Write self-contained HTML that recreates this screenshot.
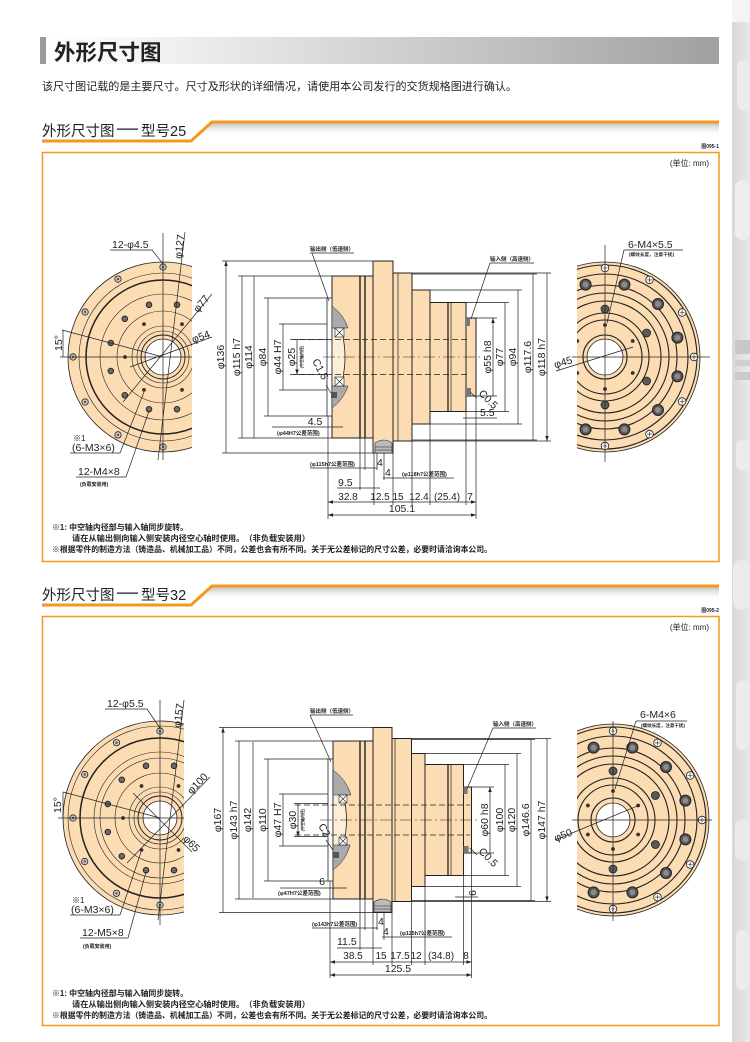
<!DOCTYPE html>
<html><head><meta charset="utf-8">
<style>
html,body{margin:0;padding:0;background:#fff;}
svg{display:block;}
text{font-family:"Liberation Sans","Noto Sans CJK SC",sans-serif;fill:#222;}
.d{font-size:10.5px;}
.s{font-size:5.5px;font-weight:bold;}
.n{font-size:8px;font-weight:bold;}
.ln{stroke:#222;stroke-width:0.7;fill:none;}
.dm{stroke:#222;stroke-width:0.7;fill:none;marker-start:url(#a);marker-end:url(#a);}
.bd{stroke:#222;stroke-width:1;fill:#fcdcb3;}
.rg{fill:none;stroke:#222;stroke-width:0.6;}
.rr{fill:none;stroke:#222;stroke-width:1.1;}
</style></head><body>
<svg width="750" height="1042" viewBox="0 0 750 1042" xmlns="http://www.w3.org/2000/svg">
<defs>
 <marker id="a" viewBox="0 0 10 10" refX="10" refY="5" markerWidth="5" markerHeight="5" orient="auto-start-reverse" markerUnits="userSpaceOnUse"><path d="M0,1.5L10,5L0,8.5z" fill="#222"/></marker>
 <linearGradient id="hg" x1="0" x2="1"><stop offset="0" stop-color="#fff"/><stop offset="0.12" stop-color="#f7f7f7"/><stop offset="0.55" stop-color="#cdcdcd"/><stop offset="1" stop-color="#a0a0a0"/></linearGradient>
 <linearGradient id="sh" x1="0" y1="0" x2="0" y2="1"><stop offset="0" stop-color="#c4c4c4"/><stop offset="1" stop-color="#fff" stop-opacity="0"/></linearGradient>
 <linearGradient id="st" x1="0" x2="1"><stop offset="0" stop-color="#d8d8d8"/><stop offset="1" stop-color="#e8e8e8"/></linearGradient>
 <clipPath id="c1"><rect x="0" y="0" width="192" height="1042"/></clipPath>
 <clipPath id="c2"><rect x="577" y="0" width="173" height="1042"/></clipPath>
 <clipPath id="c3"><rect x="0" y="0" width="184" height="1042"/></clipPath>
 <g id="h1"><circle r="3.2" fill="#c8c8c8" stroke="#222" stroke-width="0.8"/><circle r="1.2" fill="#555"/></g>
 <g id="h2"><circle r="2.8" fill="#6a6a6a" stroke="#222" stroke-width="0.9"/></g>
 <g id="h3"><circle r="1.9" fill="#333"/></g>
 <g id="hw"><circle r="3.8" fill="#fff" stroke="#222" stroke-width="0.8"/><path d="M-2.5,0H2.5M0,-2.5V2.5" stroke="#222" stroke-width="0.6"/></g>
 <g id="hb"><circle r="5.5" fill="#555" stroke="#222" stroke-width="1"/><circle r="3" fill="#8a8a8a"/></g>
 <g id="hm"><circle r="4" fill="#5a5a5a" stroke="#222" stroke-width="0.8"/></g>
</defs>

<!-- right background strip -->
<rect x="732" y="0" width="18" height="1042" fill="url(#st)"/>
<rect x="732" y="0" width="18" height="22" fill="#f4f4f4"/>
<rect x="737" y="60" width="13" height="50" fill="#ececec" rx="6"/>
<rect x="735" y="180" width="15" height="60" fill="#eeeeee" rx="8"/>
<rect x="735" y="340" width="15" height="14" fill="#c8c8c8"/>
<rect x="735" y="360" width="15" height="6" fill="#cfcfcf"/>
<rect x="735" y="372" width="15" height="8" fill="#cbcbcb"/>
<rect x="736" y="440" width="14" height="30" fill="#ececec" rx="6"/>
<rect x="733" y="560" width="17" height="50" fill="#ebebeb" rx="8"/>
<rect x="736" y="680" width="14" height="70" fill="#ececec" rx="7"/>
<rect x="735" y="820" width="15" height="40" fill="#eaeaea" rx="6"/>
<rect x="736" y="930" width="14" height="60" fill="#ececec" rx="7"/>

<!-- header -->
<rect x="40" y="37" width="679" height="27" fill="url(#hg)"/>
<rect x="40" y="37" width="6" height="27" fill="#9a9a9a"/>
<text x="54" y="60" style="font-size:21.5px;font-weight:bold;">外形尺寸图</text>
<text x="42" y="90" style="font-size:11px;" textLength="475" lengthAdjust="spacingAndGlyphs">该尺寸图记载的是主要尺寸。尺寸及形状的详细情况，请使用本公司发行的交货规格图进行确认。</text>

<!-- ============ SECTION 1 ============ -->
<polygon points="212,123.5 719,123.5 719,136 200,136" fill="url(#sh)"/>
<polyline points="42,141 191,141 212,122 719,122" fill="none" stroke="#f39a1e" stroke-width="3"/>
<text x="42" y="136" style="font-size:14.5px;">外形尺寸图</text>
<rect x="117" y="128.5" width="21" height="1.3" fill="#222"/>
<text x="141" y="136" style="font-size:14.5px;">型号25</text>
<text x="719" y="148" text-anchor="end" style="font-size:5px;font-weight:bold;">图095-1</text>
<rect x="42.5" y="152.5" width="676.5" height="409" fill="none" stroke="#f39a1e" stroke-width="1.5"/>
<text x="709" y="166" text-anchor="end" style="font-size:8px;">(单位: mm)</text>

<!-- left disc 1 -->
<g clip-path="url(#c1)">
<circle cx="163" cy="357" r="95" fill="#fcdcb3" stroke="#222" stroke-width="0.8"/>
<circle class="rg" cx="163" cy="357" r="84"/>
<circle cx="163" cy="357" r="77" fill="none" stroke="#222" stroke-width="1.5"/>
<circle class="rg" cx="163" cy="357" r="63"/>
<circle class="rg" cx="163" cy="357" r="46"/>
<circle class="rg" cx="163" cy="357" r="31"/>
<circle class="rg" cx="163" cy="357" r="26"/>
<circle cx="163" cy="357" r="22" fill="none" stroke="#222" stroke-width="0.9"/>
<circle cx="163" cy="357" r="18" fill="#fff" stroke="#222" stroke-width="0.8"/>
<use href="#h1" x="163" y="267"/><use href="#h1" x="118" y="279.1"/><use href="#h1" x="85.1" y="312"/><use href="#h1" x="73" y="357"/><use href="#h1" x="85.1" y="402"/><use href="#h1" x="118" y="434.9"/><use href="#h1" x="163" y="447"/>
<use href="#h2" x="177" y="304.8"/><use href="#h2" x="149" y="304.8"/><use href="#h2" x="124.8" y="318.8"/><use href="#h2" x="110.8" y="343"/><use href="#h2" x="110.8" y="371"/><use href="#h2" x="124.8" y="395.2"/><use href="#h2" x="149" y="409.2"/><use href="#h2" x="177" y="409.2"/>
<use href="#h3" x="182" y="324.1"/><use href="#h3" x="144" y="324.1"/><use href="#h3" x="125" y="357"/><use href="#h3" x="144" y="389.9"/><use href="#h3" x="182" y="389.9"/>
</g>
<path class="ln" d="M60,357H192M163,233V460M158,460L185,232M123,402L212,294M130,367L212,337M163,357L62,330M63,330V357"/>
<text class="d" transform="translate(183,247) rotate(-83)" text-anchor="middle">φ127</text>
<text class="d" transform="translate(204,306) rotate(-50)" text-anchor="middle">φ77</text>
<text class="d" transform="translate(202,340) rotate(-20)" text-anchor="middle">φ54</text>
<text class="d" transform="translate(62,343) rotate(-90)" text-anchor="middle">15°</text>
<text class="d" x="112" y="248">12-φ4.5</text>
<path class="ln" d="M110,250H152L163,264"/>
<text x="73" y="441" style="font-size:8px;">※1</text>
<text class="d" x="72" y="451">(6-M3×6)</text>
<path class="ln" d="M70,453H120L144,392"/>
<text class="d" x="78" y="475">12-M4×8</text>
<path class="ln" d="M76,477H126L149,411"/>
<text x="80" y="486" style="font-size:5px;font-weight:bold;">(负载安装用)</text>

<!-- middle view 1 -->
<path class="ln" d="M222,261H373M222,453H373M238,276H332M238,438H332M264,298H327M264,416H327M279,324H332M279,390H332M293,339.5H332M293,374.5H332"/>
<path class="ln" d="M476,318H497M476,396H497M466,302.5H509M466,411.5H509M430,290H522M430,424H522M412,274H537M412,440H537M412,273H551M412,441H551"/>
<rect class="bd" x="332" y="276" width="41" height="162"/>
<rect class="bd" x="373" y="261" width="20" height="192"/>
<rect class="bd" x="393" y="273" width="19" height="168"/>
<rect class="bd" x="412" y="290" width="18" height="134"/>
<rect class="bd" x="430" y="302.5" width="36" height="109"/>
<rect class="bd" x="466" y="318" width="10" height="78"/>
<path d="M360,276V438M365,276V438" stroke="#222" stroke-width="1.4"/>
<path d="M398,273V441" stroke="#222" stroke-width="0.7"/>
<path d="M448,302.5V411.5" stroke="#222" stroke-width="1.3"/>
<path d="M451,302.5V411.5" stroke="#222" stroke-width="0.7"/>
<rect x="466" y="318" width="4" height="8" fill="#777"/>
<rect x="466" y="388" width="5" height="8" fill="#777"/>
<path d="M375,443Q384,437 392,443L392,453L375,453Z" fill="#bbb" stroke="#222" stroke-width="0.6"/>
<path d="M375,447H392M375,450H392" stroke="#222" stroke-width="0.5"/>
<rect x="327" y="298" width="5" height="118" fill="#fff" stroke="#222" stroke-width="0.8"/>
<path d="M332,306Q358,357 332,408Z" fill="#fdeed8" stroke="#222" stroke-width="0.8"/>
<path d="M332,306Q344,315 348,328L332,328Z" fill="#aaa" stroke="#222" stroke-width="0.5"/>
<path d="M332,408Q344,399 348,386L332,386Z" fill="#aaa" stroke="#222" stroke-width="0.5"/>
<g stroke="#222" stroke-width="0.6" fill="#fff"><rect x="335" y="328" width="9" height="9"/><path d="M335,328L344,337M344,328L335,337"/><rect x="335" y="377" width="9" height="9"/><path d="M335,377L344,386M344,377L335,386"/></g>
<rect x="331" y="392" width="6" height="6" fill="#555"/>
<path d="M290,339.5H470M290,374.5H470" stroke="#222" stroke-width="0.8" stroke-dasharray="6 3"/>
<path d="M323,357H480" stroke="#222" stroke-width="0.6" stroke-dasharray="12 3 2 3"/>
<path class="dm" d="M226,261V453M242,276V438M254,276.5V437.5M268,298V416M283,324V390M297,339.5V374.5"/>
<path class="dm" d="M493,318V396M505,302.5V411.5M518,290V424M533,274V440M547,273V441"/>
<text class="d" transform="translate(224,357) rotate(-90)" text-anchor="middle">φ136</text>
<text class="d" transform="translate(240,357) rotate(-90)" text-anchor="middle">φ115 h7</text>
<text class="d" transform="translate(252,357) rotate(-90)" text-anchor="middle">φ114</text>
<text class="d" transform="translate(266,357) rotate(-90)" text-anchor="middle">φ84</text>
<text class="d" transform="translate(281,357) rotate(-90)" text-anchor="middle">φ44 H7</text>
<text class="d" transform="translate(295,357) rotate(-90)" text-anchor="middle">φ25</text>
<text transform="translate(303,357) rotate(-90)" text-anchor="middle" style="font-size:4px;font-weight:bold;">(中空轴内径)</text>
<text class="d" transform="translate(491,357) rotate(-90)" text-anchor="middle">φ55 h8</text>
<text class="d" transform="translate(503,357) rotate(-90)" text-anchor="middle">φ77</text>
<text class="d" transform="translate(516,357) rotate(-90)" text-anchor="middle">φ94</text>
<text class="d" transform="translate(531,357) rotate(-90)" text-anchor="middle">φ117.6</text>
<text class="d" transform="translate(545,357) rotate(-90)" text-anchor="middle">φ118 h7</text>
<text class="s" x="310" y="251">输出侧（低速侧）</text>
<path class="ln" d="M310,253H354M312,253L329,301"/>
<text class="s" x="490" y="261">输入侧（高速侧）</text>
<path class="ln" d="M490,263H534M490,263L471,319"/>
<text class="d" transform="translate(312,361) rotate(62)">C1.5</text>
<path class="ln" d="M326,385L331,393"/>
<text class="d" transform="translate(478,394) rotate(45)">C0.5</text>
<path class="ln" d="M470,392L477,398"/>
<text class="d" x="480" y="416">5.5</text>
<path class="ln" d="M463,418H497"/>
<!-- bottom dims 1 -->
<path class="ln" d="M328,416V519M360,438V490M365,438V470M374,453V505M377,453V470M384,453V480M393,441V505M412,441V505M430,424V505M466,411.5V505M476,396V519"/>
<text class="d" x="315" y="425" text-anchor="middle">4.5</text>
<path class="ln" d="M272,427H343"/>
<text class="s" x="277" y="435">(φ44H7公差范围)</text>
<text class="s" x="310" y="466">(φ115h7公差范围)</text>
<path class="ln" d="M310,468H377"/>
<text class="d" x="377" y="466">4</text>
<text class="d" x="385" y="476">4</text>
<path class="ln" d="M383,478H454"/>
<text class="s" x="402" y="476">(φ118h7公差范围)</text>
<text class="d" x="338" y="486">9.5</text>
<path class="ln" d="M337,488H380"/>
<path class="dm" d="M328,502H374M374,502H393M393,502H412M412,502H430M430,502H466M466,502H476"/>
<g class="d" text-anchor="middle" style="font-size:10px;">
<text x="348" y="500">32.8</text><text x="380" y="500">12.5</text><text x="398" y="500">15</text><text x="419" y="500">12.4</text><text x="447" y="500">(25.4)</text><text x="470" y="500">7</text>
</g>
<path class="dm" d="M328,515H476"/>
<text class="d" x="402" y="512" text-anchor="middle">105.1</text>

<!-- right disc 1 -->
<g clip-path="url(#c2)">
<circle cx="605" cy="357" r="95" fill="#fcdcb3" stroke="#222" stroke-width="0.8"/>
<circle class="rr" cx="605" cy="357" r="92"/>
<circle class="rr" cx="605" cy="357" r="83"/>
<circle class="rr" cx="605" cy="357" r="72"/>
<circle class="rr" cx="605" cy="357" r="64"/>
<circle class="rr" cx="605" cy="357" r="56"/>
<circle class="rr" cx="605" cy="357" r="44"/>
<circle class="rr" cx="605" cy="357" r="37"/>
<circle class="rr" cx="605" cy="357" r="22"/>
<circle cx="605" cy="357" r="18" fill="#fff" stroke="#222" stroke-width="0.8"/>
<use href="#hw" x="605" y="268"/><use href="#hw" x="649.5" y="279.9"/><use href="#hw" x="682.1" y="312.5"/><use href="#hw" x="694" y="357"/><use href="#hw" x="682.1" y="401.5"/><use href="#hw" x="649.5" y="434.1"/><use href="#hw" x="605" y="446"/>
<use href="#hb" x="585.6" y="284.6"/><use href="#hb" x="624.4" y="284.6"/><use href="#hb" x="658" y="304"/><use href="#hb" x="677.4" y="337.6"/><use href="#hb" x="677.4" y="376.4"/><use href="#hb" x="658" y="410"/><use href="#hb" x="624.4" y="429.4"/><use href="#hb" x="585.6" y="429.4"/>
<use href="#hm" x="605" y="309"/><use href="#hm" x="646.6" y="333"/><use href="#hm" x="646.6" y="381"/><use href="#hm" x="605" y="405"/>
<use href="#h3" x="605" y="325"/><use href="#h3" x="632.7" y="341"/><use href="#h3" x="632.7" y="373"/><use href="#h3" x="605" y="389"/><use href="#h3" x="577.3" y="341"/><use href="#h3" x="577.3" y="373"/>
</g>
<path class="ln" d="M572,357H710M605,245V462M556,371L633,347"/>
<text class="d" transform="translate(573,363) rotate(-17)" text-anchor="end">φ45</text>
<text class="d" x="628" y="248">6-M4×5.5</text>
<path class="ln" d="M624,250H683M624,250L607,323"/>
<text x="629" y="256" style="font-size:4.5px;font-weight:bold;" textLength="45" lengthAdjust="spacingAndGlyphs">(螺纹长度，注意干扰)</text>

<!-- notes 1 -->
<text class="n" x="52" y="530" textLength="136" lengthAdjust="spacingAndGlyphs">※1: 中空轴内径部与输入轴同步旋转。</text>
<text class="n" x="72" y="541" textLength="238" lengthAdjust="spacingAndGlyphs">请在从输出侧向输入侧安装内径空心轴时使用。（非负载安装用）</text>
<text class="n" x="52" y="552" textLength="440" lengthAdjust="spacingAndGlyphs">※根据零件的制造方法（铸造品、机械加工品）不同，公差也会有所不同。关于无公差标记的尺寸公差，必要时请洽询本公司。</text>

<!-- ============ SECTION 2 ============ -->
<polygon points="212,587.5 719,587.5 719,600 200,600" fill="url(#sh)"/>
<polyline points="42,605 191,605 212,586 719,586" fill="none" stroke="#f39a1e" stroke-width="3"/>
<text x="42" y="600" style="font-size:14.5px;">外形尺寸图</text>
<rect x="117" y="592.5" width="21" height="1.3" fill="#222"/>
<text x="141" y="600" style="font-size:14.5px;">型号32</text>
<text x="719" y="612" text-anchor="end" style="font-size:5px;font-weight:bold;">图095-2</text>
<rect x="42.5" y="616.5" width="676.5" height="409" fill="none" stroke="#f39a1e" stroke-width="1.5"/>
<text x="709" y="630" text-anchor="end" style="font-size:8px;">(单位: mm)</text>

<!-- left disc 2 -->
<g clip-path="url(#c3)">
<circle cx="160" cy="818" r="97" fill="#fcdcb3" stroke="#222" stroke-width="0.8"/>
<circle class="rg" cx="160" cy="818" r="92"/>
<circle cx="160" cy="818" r="80" fill="none" stroke="#222" stroke-width="1.5"/>
<circle class="rg" cx="160" cy="818" r="66"/>
<circle class="rg" cx="160" cy="818" r="60"/>
<circle class="rg" cx="160" cy="818" r="45"/>
<circle class="rg" cx="160" cy="818" r="31"/>
<circle class="rg" cx="160" cy="818" r="26"/>
<circle cx="160" cy="818" r="22" fill="none" stroke="#222" stroke-width="0.9"/>
<circle cx="160" cy="818" r="17" fill="#fff" stroke="#222" stroke-width="0.8"/>
<use href="#h1" x="160" y="731"/><use href="#h1" x="116.5" y="742.7"/><use href="#h1" x="84.7" y="774.5"/><use href="#h1" x="73" y="818"/><use href="#h1" x="84.7" y="861.5"/><use href="#h1" x="116.5" y="893.3"/><use href="#h1" x="160" y="905"/>
<use href="#h2" x="174" y="765.8"/><use href="#h2" x="146" y="765.8"/><use href="#h2" x="121.8" y="779.8"/><use href="#h2" x="107.8" y="804"/><use href="#h2" x="107.8" y="832"/><use href="#h2" x="121.8" y="856.2"/><use href="#h2" x="146" y="870.2"/><use href="#h2" x="174" y="870.2"/>
<use href="#h3" x="178.5" y="786"/><use href="#h3" x="141.5" y="786"/><use href="#h3" x="123" y="818"/><use href="#h3" x="141.5" y="850"/><use href="#h3" x="178.5" y="850"/>
</g>
<path class="ln" d="M58,818H184M160,700V925M158,920L184,700M127,863L210,777M133,793L192,852M160,818L63,792M63,792V818"/>
<text class="d" transform="translate(182,716) rotate(-83)" text-anchor="middle">φ157</text>
<text class="d" transform="translate(200,786) rotate(-46)" text-anchor="middle">φ100</text>
<text class="d" transform="translate(189,846) rotate(45)" text-anchor="middle">φ65</text>
<text class="d" transform="translate(61,805) rotate(-90)" text-anchor="middle">15°</text>
<text class="d" x="107" y="707">12-φ5.5</text>
<path class="ln" d="M105,709H147L160,728"/>
<text x="72" y="903" style="font-size:8px;">※1</text>
<text class="d" x="71" y="913">(6-M3×6)</text>
<path class="ln" d="M70,915H120L141,852"/>
<text class="d" x="82" y="936">12-M5×8</text>
<path class="ln" d="M80,938H128L146,872"/>
<text x="83" y="948" style="font-size:5px;font-weight:bold;">(负载安装用)</text>

<!-- middle view 2 -->
<path class="ln" d="M219,727.5H373M219,912.5H373M235,741H333M235,899H333M264,759H328M264,881H328M279,794H333M279,846H333M294,803.5H333M294,836.5H333"/>
<path class="ln" d="M471.5,787H494M471.5,853H494M463.5,764.5H509M463.5,875.5H509M425,753.5H521M425,886.5H521M411.5,739.5H535M411.5,900.5H535M411.5,738.5H551M411.5,901.5H551"/>
<rect class="bd" x="333" y="741" width="40" height="158"/>
<rect class="bd" x="373" y="727.5" width="19" height="185"/>
<rect class="bd" x="392" y="738.5" width="19.5" height="163"/>
<rect class="bd" x="411.5" y="753.5" width="13.5" height="133"/>
<rect class="bd" x="425" y="764.5" width="38.5" height="111"/>
<rect class="bd" x="463.5" y="787" width="8" height="66"/>
<path d="M360,741V899M365,741V899" stroke="#222" stroke-width="1.4"/>
<path d="M395,738.5V901.5" stroke="#222" stroke-width="0.7"/>
<path d="M448,764.5V875.5" stroke="#222" stroke-width="1.3"/>
<path d="M451,764.5V875.5" stroke="#222" stroke-width="0.7"/>
<rect x="463.5" y="787" width="4" height="7" fill="#777"/>
<rect x="463.5" y="846" width="5" height="7" fill="#777"/>
<path d="M374,902Q383,896 391,902L391,912L374,912Z" fill="#bbb" stroke="#222" stroke-width="0.6"/>
<path d="M374,906H391M374,909H391" stroke="#222" stroke-width="0.5"/>
<rect x="328" y="759" width="5" height="122" fill="#fff" stroke="#222" stroke-width="0.8"/>
<path d="M333,770Q360,820 333,870Z" fill="#fdeed8" stroke="#222" stroke-width="0.8"/>
<path d="M333,770Q346,779 351,795L333,795Z" fill="#aaa" stroke="#222" stroke-width="0.5"/>
<path d="M333,870Q346,861 350,845L333,845Z" fill="#aaa" stroke="#222" stroke-width="0.5"/>
<g stroke="#222" stroke-width="0.6" fill="#fff"><rect x="339" y="795" width="8" height="8"/><path d="M339,795L347,803M347,795L339,803"/><rect x="339" y="837" width="8" height="8"/><path d="M339,837L347,845M347,837L339,845"/></g>
<rect x="333" y="852" width="6" height="6" fill="#555"/>
<path d="M295,805H470M295,835H470" stroke="#222" stroke-width="0.8" stroke-dasharray="6 3"/>
<path d="M320,820H478" stroke="#222" stroke-width="0.6" stroke-dasharray="12 3 2 3"/>
<path class="dm" d="M223,727.5V912.5M239,741V899M253,742V898M268,759V881M283,794V846M298,803.5V836.5"/>
<path class="dm" d="M490,787V853M505,764.5V875.5M517,753.5V886.5M531,739.5V900.5M547,738.5V901.5"/>
<text class="d" transform="translate(221,820) rotate(-90)" text-anchor="middle">φ167</text>
<text class="d" transform="translate(237,820) rotate(-90)" text-anchor="middle">φ143 h7</text>
<text class="d" transform="translate(251,820) rotate(-90)" text-anchor="middle">φ142</text>
<text class="d" transform="translate(266,820) rotate(-90)" text-anchor="middle">φ110</text>
<text class="d" transform="translate(281,820) rotate(-90)" text-anchor="middle">φ47 H7</text>
<text class="d" transform="translate(296,820) rotate(-90)" text-anchor="middle">φ30</text>
<text transform="translate(304,820) rotate(-90)" text-anchor="middle" style="font-size:4px;font-weight:bold;">(中空轴内径)</text>
<text class="d" transform="translate(488,820) rotate(-90)" text-anchor="middle">φ60 h8</text>
<text class="d" transform="translate(503,820) rotate(-90)" text-anchor="middle">φ100</text>
<text class="d" transform="translate(515,820) rotate(-90)" text-anchor="middle">φ120</text>
<text class="d" transform="translate(529,820) rotate(-90)" text-anchor="middle">φ146.6</text>
<text class="d" transform="translate(545,820) rotate(-90)" text-anchor="middle">φ147 h7</text>
<text class="s" x="310" y="713">输出侧（低速侧）</text>
<path class="ln" d="M310,715H353M310,715L331,762"/>
<text class="s" x="493" y="726">输入侧（高速侧）</text>
<path class="ln" d="M493,728H536M493,728L467,789"/>
<text class="d" transform="translate(318,826) rotate(60)">C2</text>
<path class="ln" d="M326,840L333,850"/>
<text class="d" transform="translate(478,852) rotate(45)">C0.5</text>
<path class="ln" d="M470,848L477,855"/>
<text class="d" transform="translate(476,893) rotate(-90)" text-anchor="middle">6</text>
<path class="ln" d="M455,897H478"/>
<!-- bottom dims 2 -->
<path class="ln" d="M330,881V978M360,899V950M365,899V930M373,912.5V965M377,912.5V930M384,912.5V940M392,901.5V965M411.5,901.5V965M425,886.5V965M463.5,875.5V965M471.5,853V978"/>
<text class="d" x="322" y="885" text-anchor="middle">6</text>
<path class="ln" d="M280,888H347"/>
<text class="s" x="278" y="895">(φ47H7公差范围)</text>
<text class="s" x="312" y="926">(φ143h7公差范围)</text>
<path class="ln" d="M312,928H378"/>
<text class="d" x="378" y="925">4</text>
<text class="d" x="383" y="935">4</text>
<path class="ln" d="M382,937H452"/>
<text class="s" x="400" y="935">(φ115h7公差范围)</text>
<text class="d" x="337" y="945">11.5</text>
<path class="ln" d="M337,948H382"/>
<path class="dm" d="M330,962H373M373,962H392M392,962H411.5M411.5,962H425M425,962H463.5M463.5,962H471.5"/>
<g class="d" text-anchor="middle" style="font-size:10px;">
<text x="353" y="959">38.5</text><text x="381" y="959">15</text><text x="400" y="959">17.5</text><text x="416" y="959">12</text><text x="441" y="959">(34.8)</text><text x="466" y="959">8</text>
</g>
<path class="dm" d="M330,975H471.5"/>
<text class="d" x="398" y="972" text-anchor="middle">125.5</text>

<!-- right disc 2 -->
<g clip-path="url(#c2)">
<circle cx="613" cy="820" r="96" fill="#fcdcb3" stroke="#222" stroke-width="0.8"/>
<circle class="rr" cx="613" cy="820" r="93"/>
<circle class="rr" cx="613" cy="820" r="84"/>
<circle class="rr" cx="613" cy="820" r="72"/>
<circle class="rr" cx="613" cy="820" r="64"/>
<circle class="rr" cx="613" cy="820" r="56"/>
<circle class="rr" cx="613" cy="820" r="42"/>
<circle class="rr" cx="613" cy="820" r="35"/>
<circle class="rr" cx="613" cy="820" r="22"/>
<circle cx="613" cy="820" r="17" fill="#fff" stroke="#222" stroke-width="0.8"/>
<use href="#hw" x="613" y="731"/><use href="#hw" x="657.5" y="742.9"/><use href="#hw" x="690.1" y="775.5"/><use href="#hw" x="702" y="820"/><use href="#hw" x="690.1" y="864.5"/><use href="#hw" x="657.5" y="897.1"/><use href="#hw" x="613" y="909"/>
<use href="#hb" x="593.6" y="747.6"/><use href="#hb" x="632.4" y="747.6"/><use href="#hb" x="666" y="767"/><use href="#hb" x="685.4" y="800.6"/><use href="#hb" x="685.4" y="839.4"/><use href="#hb" x="666" y="873"/><use href="#hb" x="632.4" y="892.4"/><use href="#hb" x="593.6" y="892.4"/>
<use href="#hm" x="613" y="771"/><use href="#hm" x="655.4" y="795.5"/><use href="#hm" x="655.4" y="844.5"/><use href="#hm" x="613" y="869"/>
<use href="#h3" x="613" y="791"/><use href="#h3" x="638.1" y="805.5"/><use href="#h3" x="638.1" y="834.5"/><use href="#h3" x="613" y="849"/><use href="#h3" x="587.9" y="805.5"/><use href="#h3" x="587.9" y="834.5"/>
</g>
<path class="ln" d="M572,820H712M613,721V921M555,840L640,805"/>
<text class="d" transform="translate(573,835) rotate(-22)" text-anchor="end">φ50</text>
<text class="d" x="640" y="718">6-M4×6</text>
<path class="ln" d="M636,721H687M636,721L615,789"/>
<text x="641" y="727" style="font-size:4.5px;font-weight:bold;" textLength="44" lengthAdjust="spacingAndGlyphs">(螺纹长度，注意干扰)</text>

<!-- notes 2 -->
<text class="n" x="52" y="996" textLength="136" lengthAdjust="spacingAndGlyphs">※1: 中空轴内径部与输入轴同步旋转。</text>
<text class="n" x="72" y="1007" textLength="238" lengthAdjust="spacingAndGlyphs">请在从输出侧向输入侧安装内径空心轴时使用。（非负载安装用）</text>
<text class="n" x="52" y="1018" textLength="440" lengthAdjust="spacingAndGlyphs">※根据零件的制造方法（铸造品、机械加工品）不同，公差也会有所不同。关于无公差标记的尺寸公差，必要时请洽询本公司。</text>
</svg>
</body></html>
